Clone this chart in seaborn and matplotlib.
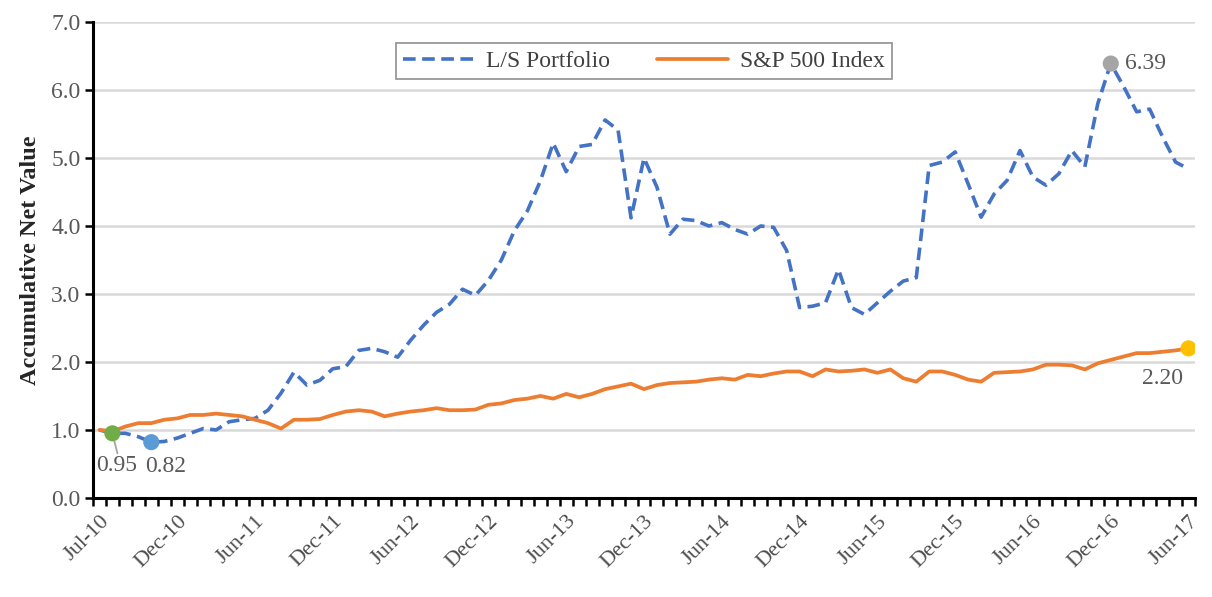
import numpy as np
import pandas as pd
import matplotlib
matplotlib.use("Agg")
import matplotlib.pyplot as plt
import seaborn as sns

# month labels shown on the x axis (every 6th point)
tick_labels = ["Jul-10", "Dec-10", "Jun-11", "Dec-11", "Jun-12", "Dec-12", "Jun-13",
               "Dec-13", "Jun-14", "Dec-14", "Jun-15", "Dec-15", "Jun-16", "Dec-16", "Jun-17"]

# accumulative net value of the long/short portfolio
ls_portfolio = [1.00, 0.95, 0.95, 0.90, 0.82, 0.83, 0.88, 0.95, 1.02, 1.00,
                1.12, 1.15, 1.17, 1.29, 1.54, 1.85, 1.66, 1.73, 1.90, 1.93,
                2.17, 2.20, 2.15, 2.07, 2.32, 2.54, 2.73, 2.85, 3.07, 2.98,
                3.20, 3.50, 3.93, 4.22, 4.66, 5.22, 4.80, 5.17, 5.20, 5.56,
                5.41, 4.12, 5.00, 4.57, 3.88, 4.10, 4.08, 4.00, 4.05, 3.95,
                3.88, 4.00, 3.98, 3.64, 2.80, 2.82, 2.87, 3.36, 2.80, 2.70,
                2.87, 3.04, 3.19, 3.24, 4.89, 4.94, 5.09, 4.62, 4.13, 4.47,
                4.67, 5.11, 4.72, 4.60, 4.77, 5.11, 4.87, 5.80, 6.39, 6.05,
                5.68, 5.72, 5.31, 4.94, 4.84]

# S&P 500 index, normalised to 1 at the start
sp500 = [1.00, 0.98, 1.05, 1.10, 1.10, 1.15, 1.17, 1.22, 1.22, 1.24,
         1.22, 1.20, 1.15, 1.10, 1.02, 1.15, 1.15, 1.16, 1.22, 1.27,
         1.29, 1.27, 1.20, 1.24, 1.27, 1.29, 1.32, 1.29, 1.29, 1.30,
         1.37, 1.39, 1.44, 1.46, 1.50, 1.46, 1.53, 1.48, 1.53, 1.60,
         1.64, 1.68, 1.60, 1.66, 1.69, 1.70, 1.71, 1.74, 1.76, 1.74,
         1.81, 1.79, 1.83, 1.86, 1.86, 1.79, 1.89, 1.86, 1.87, 1.89,
         1.84, 1.89, 1.76, 1.71, 1.86, 1.86, 1.81, 1.74, 1.71, 1.84,
         1.85, 1.86, 1.89, 1.96, 1.96, 1.95, 1.89, 1.98, 2.03, 2.08,
         2.13, 2.13, 2.15, 2.17, 2.20]

# highlighted points: (series, index, marker colour)
highlights = [("ls", 1, "#70AD47"), ("ls", 4, "#5B9BD5"),
              ("ls", 78, "#A5A5A5"), ("sp", 84, "#FFC000")]

BLUE = "#4472C4"
ORANGE = "#ED7D31"
GREY_TXT = "#595959"

sns.set_theme(style="white")
plt.rcParams["font.family"] = ["Liberation Serif", "DejaVu Serif"]

n = len(ls_portfolio)
df = pd.DataFrame({"idx": np.arange(n), "ls": ls_portfolio, "sp": sp500})

fig = plt.figure(figsize=(12.12, 5.97), dpi=100)
ax = fig.add_axes([0.0767, 0.166, 0.9093, 0.797])

sns.lineplot(data=df, x="idx", y="ls", ax=ax, color=BLUE, lw=2.6,
             label="L/S Portfolio")
sns.lineplot(data=df, x="idx", y="sp", ax=ax, color=ORANGE, lw=2.7,
             label="S&P 500 Index")
ax.lines[0].set_dashes((3.5, 1.8))

# highlighted markers and value labels
for ser, i, col in highlights:
    y = df[ser].iloc[i]
    ax.scatter([i], [y], s=135, color=col, zorder=5, edgecolor="none")

# short leader line under the first marker
ax.annotate("", xy=(1, ls_portfolio[1]), xytext=(5, -20), textcoords="offset pixels",
            arrowprops=dict(arrowstyle="-", color="#A6A6A6", lw=1.3,
                            shrinkA=0, shrinkB=0), zorder=4)
ax.annotate(f"{ls_portfolio[1]:.2f}", xy=(1, ls_portfolio[1]), xytext=(4, -32),
            textcoords="offset pixels", fontsize=17, color=GREY_TXT,
            ha="center", va="center")
ax.annotate(f"{ls_portfolio[4]:.2f}", xy=(4, ls_portfolio[4]), xytext=(14, -24),
            textcoords="offset pixels", fontsize=17, color=GREY_TXT,
            ha="center", va="center")
ax.annotate(f"{ls_portfolio[78]:.2f}", xy=(78, ls_portfolio[78]), xytext=(14, 0),
            textcoords="offset pixels", fontsize=17, color=GREY_TXT, va="center")
ax.annotate(f"{sp500[84]:.2f}", xy=(84, sp500[84]), xytext=(-6, -30),
            textcoords="offset pixels", fontsize=17, color=GREY_TXT,
            ha="right", va="center")

# axes
ax.set_xlim(-0.5, n - 0.5)
ax.set_ylim(0, 7)
ax.set_yticks(np.arange(0, 7.01, 1.0))
ax.set_yticklabels([f"{v:.1f}" for v in np.arange(0, 7.01, 1.0)])
ax.set_xticks(np.arange(0, n, 6))
ax.set_xticklabels(tick_labels, rotation=45, ha="right", rotation_mode="anchor")
ax.set_xticks(np.arange(-0.5, n, 1.0), minor=True)

ax.tick_params(axis="x", which="major", length=0, pad=10, labelsize=16,
               labelcolor="#4D4D4D")
ax.tick_params(axis="x", which="minor", length=6, width=1.8, color="black",
               direction="out")
ax.tick_params(axis="y", length=6, width=1.8, color="black", direction="out",
               labelsize=17, labelcolor=GREY_TXT, pad=3)
ax.xaxis.set_tick_params(bottom=True, which="both")
ax.yaxis.set_tick_params(left=True)

ax.grid(axis="y", color="#D9D9D9", lw=1.8)
ax.set_axisbelow(True)
for side in ["top", "right"]:
    ax.spines[side].set_visible(False)
for side in ["left", "bottom"]:
    ax.spines[side].set_color("black")
    ax.spines[side].set_linewidth(2.2)

ax.set_xlabel("")
ax.set_ylabel("Accumulative Net Value", fontsize=17.5, fontweight="bold",
              color="#262626")
ax.yaxis.set_label_coords(-0.047, 0.5)

leg = ax.legend(loc="upper center", bbox_to_anchor=(0.5, 0.98), ncol=2,
                fontsize=17, frameon=True, fancybox=False, borderpad=0.3,
                handlelength=3.0, columnspacing=2.0, handletextpad=0.5)
leg.get_frame().set_edgecolor("#7F7F7F")
leg.get_frame().set_linewidth(1.3)
for t in leg.get_texts():
    t.set_color("#404040")

fig.savefig("out.png", dpi=100)
